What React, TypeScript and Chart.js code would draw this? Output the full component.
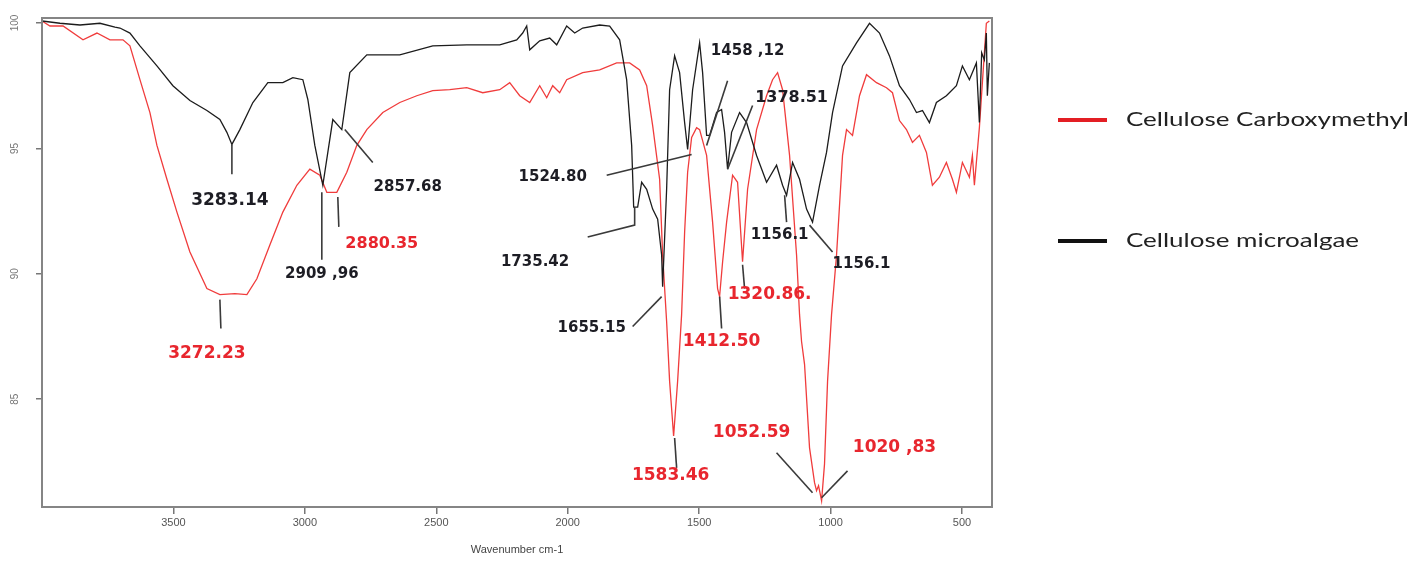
import { useEffect, useRef } from "react";
import { Chart, registerables } from "chart.js";

Chart.register(...registerables);

// ---------- data ----------
const seriesNames = ["Cellulose microalgae", "Cellulose Carboxymethyl"];

const microalgaeWavenumber = [4000, 3931.6, 3855.5, 3779.5, 3722.5, 3703.5, 3665.5, 3627.4, 3562.8, 3502, 3437.3, 3372.7, 3323.3, 3296.7, 3277.6, 3247.3, 3197.8, 3140.8, 3083.8, 3045.7, 3007.7, 2988.7, 2962.1, 2931.7, 2893.7, 2859.5, 2829, 2764.4, 2638.9, 2513.5, 2384.2, 2258.7, 2194.1, 2171.3, 2156.1, 2144.6, 2106.6, 2068.6, 2042, 2004, 1973.5, 1943.1, 1878.5, 1840.5, 1802.5, 1775.9, 1756.8, 1749.2, 1734, 1718.8, 1699.7, 1676.9, 1657.9, 1642.8, 1639, 1623.8, 1612.4, 1593.4, 1574.4, 1555.3, 1543.9, 1524.9, 1498.3, 1486.9, 1471.7, 1460.3, 1433.7, 1414.7, 1403.3, 1391.9, 1376.7, 1346.3, 1319.6, 1281.6, 1243.6, 1205.6, 1182.7, 1167.5, 1144.7, 1118.1, 1091.5, 1068.7, 1042.1, 1015.5, 992.6, 954.6, 901.4, 852, 814, 776, 738, 700, 673.4, 650.5, 624.1, 597.5, 559.5, 521.4, 498.6, 472, 445.4, 434, 425.3, 415.1, 407.5, 403.7, 396.1];
const microalgaeTransmittance = [100.08, 99.99, 99.92, 99.99, 99.84, 99.8, 99.6, 99.09, 98.29, 97.5, 96.91, 96.51, 96.15, 95.64, 95.16, 95.75, 96.83, 97.62, 97.62, 97.82, 97.74, 96.95, 95.12, 93.53, 96.15, 95.75, 98.02, 98.73, 98.73, 99.09, 99.13, 99.13, 99.33, 99.6, 99.88, 98.93, 99.29, 99.4, 99.13, 99.88, 99.6, 99.8, 99.92, 99.88, 99.33, 97.74, 95.12, 92.66, 92.66, 93.65, 93.37, 92.58, 92.18, 90.75, 89.48, 93.37, 97.34, 98.69, 98.02, 96.03, 94.96, 97.34, 99.21, 98.02, 95.52, 95.52, 96.43, 96.55, 95.64, 94.17, 95.64, 96.43, 96.03, 94.72, 93.65, 94.33, 93.53, 93.13, 94.44, 93.77, 92.58, 92.06, 93.53, 94.84, 96.43, 98.29, 99.21, 99.99, 99.6, 98.69, 97.5, 96.95, 96.43, 96.51, 96.03, 96.83, 97.1, 97.5, 98.29, 97.74, 98.41, 96.03, 98.81, 98.53, 99.6, 97.1, 98.41];

const carboxyWavenumber = [4000, 3969.6, 3920, 3844, 3791, 3741.5, 3692, 3665.5, 3627.4, 3589.4, 3562.8, 3524.8, 3486.7, 3437.3, 3372.7, 3323.3, 3266.2, 3220.6, 3182.6, 3133.2, 3083.8, 3030.5, 2981.1, 2943.1, 2916.5, 2878.5, 2840.5, 2802.4, 2764.4, 2703.5, 2638.9, 2574.3, 2513.5, 2448.8, 2384.2, 2323.4, 2258.7, 2220.7, 2182.7, 2144.6, 2106.6, 2080, 2057.2, 2030.6, 2004, 1943.1, 1878.5, 1813.9, 1764.4, 1726.4, 1699.7, 1676.9, 1650.4, 1639, 1623.8, 1612.4, 1597.2, 1582, 1566.8, 1555.3, 1543.9, 1528.7, 1509.7, 1498.3, 1471.7, 1448.9, 1429.9, 1422.3, 1410.8, 1395.6, 1372.9, 1353.9, 1334.9, 1315.8, 1281.6, 1243.6, 1220.8, 1201.7, 1182.7, 1156.1, 1129.5, 1118.1, 1110.5, 1099.1, 1080.1, 1061.1, 1053.5, 1045.9, 1034.3, 1023.1, 1011.6, 996.4, 977.4, 954.6, 939.4, 916.6, 890, 863.4, 825.4, 787.4, 764.6, 738, 711.4, 688.6, 662.1, 635.4, 612.7, 586.1, 559.5, 536.6, 521.4, 498.6, 472, 460.6, 453, 434, 422.6, 407.5, 396.1];
const carboxyTransmittance = [100.08, 99.88, 99.88, 99.33, 99.6, 99.33, 99.33, 99.09, 97.74, 96.43, 95.12, 93.77, 92.46, 90.87, 89.41, 89.17, 89.21, 89.17, 89.8, 91.15, 92.46, 93.53, 94.17, 93.93, 93.25, 93.25, 94.05, 95.12, 95.75, 96.43, 96.83, 97.1, 97.3, 97.34, 97.42, 97.22, 97.34, 97.62, 97.1, 96.83, 97.5, 97.02, 97.5, 97.22, 97.74, 98.02, 98.13, 98.41, 98.41, 98.13, 97.5, 95.91, 93.77, 90.75, 88.1, 85.71, 83.53, 85.71, 88.37, 91.67, 94.05, 95.44, 95.83, 95.75, 94.72, 92.06, 89.41, 89.09, 90.48, 92.06, 93.93, 93.65, 90.48, 93.37, 95.75, 97.1, 97.74, 98.02, 97.34, 94.72, 90.75, 88.37, 87.3, 86.39, 83.06, 81.67, 81.35, 81.55, 80.95, 82.42, 85.71, 88.37, 90.75, 94.72, 95.75, 95.52, 97.1, 97.94, 97.62, 97.42, 97.22, 96.11, 95.75, 95.24, 95.52, 94.84, 93.53, 93.85, 94.44, 93.77, 93.25, 94.44, 93.85, 94.72, 93.53, 95.83, 97.62, 99.99, 100.08];

const xTicks = [3500, 3000, 2500, 2000, 1500, 1000, 500];
const yTicks = [85, 90, 95, 100];
const xTitle = "Wavenumber cm-1";

// Peak labels: text, which series colour, label centre [wavenumber, %T], leader line points
const peakLabels: { text: string; red: boolean; size: number; at: number[]; line: number[][] }[] = [
  { text: "3283.14", red: false, size: 17, at: [3285.2, 92.9], line: [[3277.6, 95.16], [3277.6, 93.97]] },
  { text: "3272.23", red: true, size: 17, at: [3372.7, 86.83], line: [[3323.3, 88.97], [3319.5, 87.82]] },
  { text: "2909 ,96", red: false, size: 15, at: [2935.5, 90.0], line: [[2935.5, 93.25], [2935.5, 90.56]] },
  { text: "2880.35", red: true, size: 16, at: [2707.3, 91.19], line: [[2874.7, 93.06], [2870.8, 91.87]] },
  { text: "2857.68", red: false, size: 15, at: [2608.5, 93.45], line: [[2848, 95.75], [2741.6, 94.44]] },
  { text: "1524.80", red: false, size: 15, at: [2057.2, 93.85], line: [[1851.9, 93.93], [1528.7, 94.76]] },
  { text: "1458 ,12", red: false, size: 15, at: [1315.8, 98.89], line: [[1391.9, 97.7], [1471.7, 95.12]] },
  { text: "1378.51", red: false, size: 16, at: [1148.5, 97.02], line: [[1296.8, 96.71], [1391.9, 94.17]] },
  { text: "1735.42", red: false, size: 15, at: [2124.2, 90.48], line: [[1924.1, 91.47], [1745.4, 91.94], [1745.4, 92.66]] },
  { text: "1655.15", red: false, size: 15, at: [1908.9, 87.82], line: [[1753, 87.9], [1642.8, 89.09]] },
  { text: "1583.46", red: true, size: 17, at: [1608.6, 81.94], line: [[1593.4, 83.45], [1585.8, 82.26]] },
  { text: "1412.50", red: true, size: 17, at: [1414.7, 87.3], line: [[1422.3, 89.09], [1414.7, 87.82]] },
  { text: "1320.86.", red: true, size: 17, at: [1232, 89.17], line: [[1334.9, 90.36], [1327.2, 89.41]] },
  { text: "1156.1", red: false, size: 15, at: [1194.1, 91.55], line: [[1175, 93.13], [1167.5, 92.06]] },
  { text: "1156.1", red: false, size: 15, at: [882.4, 90.4], line: [[1080.1, 91.94], [992.6, 90.87]] },
  { text: "1052.59", red: true, size: 17, at: [1300.6, 83.65], line: [[1205.6, 82.86], [1068.7, 81.27]] },
  { text: "1020 ,83", red: true, size: 17, at: [756.9, 83.06], line: [[935.6, 82.14], [1034.3, 81.07]] },
];

// ---------- styles ----------
const BLACK_LINE = "#1c1c1c";
const RED_LINE = "#f03c3c";
const BLACK_TEXT = "#1d1d24";
const RED_TEXT = "#e8262e";
const FRAME = "#858585";

const overlayPlugin = {
  id: "overlay",
  afterDatasetsDraw(chart: any) {
    const { ctx, chartArea: a, scales } = chart;
    const xs = scales.x;
    const ys = scales.y;
    ctx.save();
    // frame
    ctx.strokeStyle = FRAME;
    ctx.lineWidth = 2;
    ctx.strokeRect(a.left, a.top, a.right - a.left, a.bottom - a.top);

    // peak labels
    ctx.textAlign = "center";
    ctx.textBaseline = "middle";
    for (const p of peakLabels) {
      ctx.beginPath();
      p.line.forEach((pt, i) => {
        const px = xs.getPixelForValue(pt[0]);
        const py = ys.getPixelForValue(pt[1]);
        if (i === 0) ctx.moveTo(px, py);
        else ctx.lineTo(px, py);
      });
      ctx.strokeStyle = "#3a3a3a";
      ctx.lineWidth = 1.6;
      ctx.stroke();
      ctx.font = `bold ${p.size}px "DejaVu Sans"`;
      ctx.fillStyle = p.red ? RED_TEXT : BLACK_TEXT;
      ctx.fillText(p.text, xs.getPixelForValue(p.at[0]), ys.getPixelForValue(p.at[1]));
    }

    // legend (red entry first)
    const entries = [chart.data.datasets[1], chart.data.datasets[0]];
    const rowsY = [120, 241];
    ctx.font = `19px "Lato"`;
    const k = 283 / ctx.measureText(entries[0].label).width;
    entries.forEach((ds: any, i: number) => {
      const yy = rowsY[i];
      ctx.beginPath();
      ctx.moveTo(1058, yy);
      ctx.lineTo(1107, yy);
      ctx.strokeStyle = i === 0 ? "#e31e24" : "#111";
      ctx.lineWidth = 4;
      ctx.stroke();
      ctx.save();
      ctx.translate(1126, yy);
      ctx.scale(k, 1);
      ctx.fillStyle = "#222";
      ctx.textAlign = "left";
      ctx.textBaseline = "middle";
      ctx.fillText(ds.label, 0, 0);
      ctx.restore();
    });
    ctx.restore();
  },
};

export default function App() {
  const ref = useRef<HTMLCanvasElement | null>(null);

  useEffect(() => {
    if (!ref.current) return;
    const black = microalgaeWavenumber.map((w, i) => ({ x: w, y: microalgaeTransmittance[i] }));
    const red = carboxyWavenumber.map((w, i) => ({ x: w, y: carboxyTransmittance[i] }));
    const chart = new Chart(ref.current, {
      type: "line",
      data: {
        datasets: [
          { label: seriesNames[0], data: black, borderColor: BLACK_LINE, borderWidth: 1.3, pointRadius: 0, tension: 0, fill: false },
          { label: seriesNames[1], data: red, borderColor: RED_LINE, borderWidth: 1.3, pointRadius: 0, tension: 0, fill: false },
        ],
      },
      options: {
        responsive: false,
        maintainAspectRatio: false,
        animation: false,
        layout: { padding: { left: 0, right: 436, top: 16, bottom: 0 } },
        plugins: { legend: { display: false }, tooltip: { enabled: false } },
        scales: {
          x: {
            type: "linear",
            reverse: true,
            min: 386,
            max: 4000,
            afterBuildTicks: (s: any) => { s.ticks = xTicks.map((v) => ({ value: v })); },
            afterFit: (s: any) => { s.height = 62; },
            border: { display: false },
            grid: { drawOnChartArea: false, drawTicks: true, tickLength: 7, tickColor: "#777", lineWidth: 1.5 },
            ticks: { padding: 2, color: "#555", font: { family: "Liberation Sans", size: 11 }, maxRotation: 0, autoSkip: false, callback: (v: any) => String(v) },
            title: { display: true, text: xTitle, color: "#444", font: { family: "Liberation Sans", size: 11 }, padding: { top: 2, bottom: 12 } },
          },
          y: {
            type: "linear",
            min: 80.7,
            max: 100.2,
            afterBuildTicks: (s: any) => { s.ticks = yTicks.map((v) => ({ value: v })); },
            afterFit: (s: any) => { s.width = 42; },
            border: { display: false },
            grid: { drawOnChartArea: false, drawTicks: true, tickLength: 6, tickColor: "#777", lineWidth: 1.5 },
            ticks: { padding: 12, color: "#777", crossAlign: "center", minRotation: 90, maxRotation: 90, font: { family: "Liberation Sans", size: 10 }, callback: (v: any) => String(v) },
          },
        },
      },
      plugins: [overlayPlugin],
    } as any);
    return () => chart.destroy();
  }, []);

  return (
    <div style={{ position: "absolute", left: 0, top: 0, width: 1428, height: 569, background: "#fff" }}>
      <canvas ref={ref} width={1428} height={569} style={{ width: 1428, height: 569, display: "block" }} />
    </div>
  );
}
